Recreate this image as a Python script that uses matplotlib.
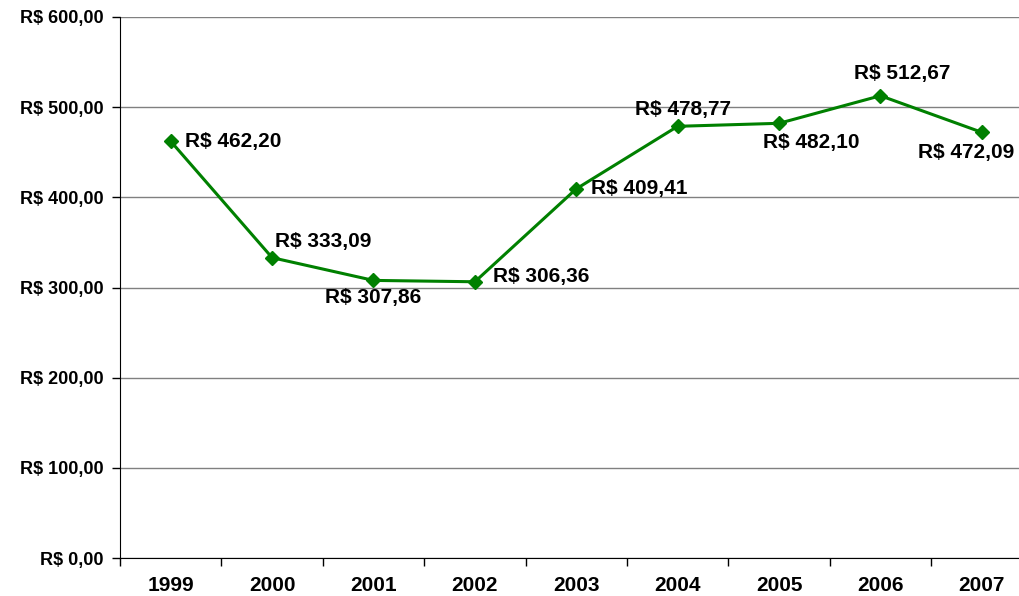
import numpy as np
import matplotlib.pyplot as plt
from matplotlib.ticker import FuncFormatter

# dados
anos = ['1999', '2000', '2001', '2002', '2003', '2004', '2005', '2006', '2007']
valores = [462.20, 333.09, 307.86, 306.36, 409.41, 478.77, 482.10, 512.67, 472.09]

# deslocamento dos rotulos (pixels) e alinhamento
offsets = [(14, 0), (3, 16), (0, -17), (18, 5), (15, 0), (5, 17), (32, -19), (22, 22), (-16, -20)]
aligns = ['left', 'left', 'center', 'left', 'left', 'center', 'center', 'center', 'center']

plt.rcParams['font.family'] = ['Liberation Sans', 'DejaVu Sans']
plt.rcParams['font.weight'] = 'bold'


def reais(v):
    s = f'{v:,.2f}'.replace(',', 'X').replace('.', ',').replace('X', '.')
    return 'R$ ' + s


fig = plt.figure(figsize=(10.2, 5.96), dpi=100)
ax = fig.add_axes([120 / 1020, 38 / 596, 900 / 1020, 541 / 596])

x = np.arange(len(anos))
ax.plot(x, valores, color='#008000', lw=2.2, marker='D', markersize=7.5, zorder=3)

for xi, v, off, ha in zip(x, valores, offsets, aligns):
    ax.annotate(reais(v), (xi, v), xytext=off, textcoords='offset pixels',
                ha=ha, va='center', fontsize=15, fontweight='bold', color='black')

ax.set_ylim(0, 600)
ax.set_yticks(np.arange(0, 601, 100))
ax.yaxis.set_major_formatter(FuncFormatter(lambda v, p: reais(v)))
ax.grid(axis='y', color='#808080', lw=1)
ax.set_axisbelow(True)

ax.set_xticks(x)
ax.set_xticklabels(anos)
ax.set_xticks(np.arange(-0.5, 8.4, 1), minor=True)
ax.set_xlim(-0.5, 8.376)
ax.tick_params(axis='x', which='major', length=0, pad=13, labelsize=15)
ax.tick_params(axis='x', which='minor', length=6, width=1, direction='out')
ax.tick_params(axis='y', length=6, width=1, direction='out', pad=6, labelsize=13)

for s in ['top', 'right']:
    ax.spines[s].set_visible(False)
ax.spines['left'].set_color('black')
ax.spines['bottom'].set_color('black')

fig.savefig('out.png', dpi=100)
